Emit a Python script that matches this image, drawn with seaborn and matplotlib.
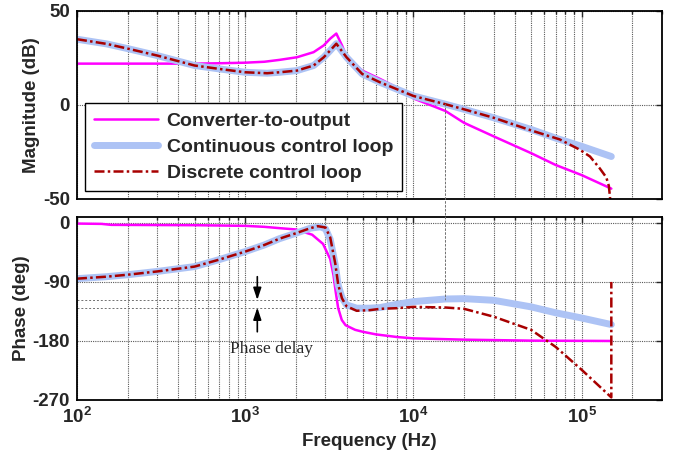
import math
import matplotlib
matplotlib.use("Agg")
import matplotlib.pyplot as plt
import seaborn as sns
from matplotlib.patches import ConnectionPatch
from matplotlib.ticker import LogLocator, FuncFormatter, NullFormatter, FixedLocator

# --- DATA ---
# Converter-to-output magnitude
conv_mag_f = [100, 200, 300, 500, 700, 1000, 1300, 1600, 2030, 2550, 2930, 3200, 3480,
              3760, 4000, 4960, 6350, 7970, 10000, 15500, 20000, 30000, 50000, 70000,
              100000, 150000]
conv_mag_db = [22, 22, 22, 22, 22.2, 22.5, 23, 24, 25.4, 28.1, 31.7, 35.3, 38,
               31.7, 25.8, 18.3, 13.8, 9.3, 3.5, -3.2, -9.5, -16.7, -25.6, -31.9,
               -37.3, -44.5]

# Continuous control loop magnitude
cont_mag_f = [100, 150, 200, 300, 500, 700, 1000, 1350, 1600, 2030, 2550, 2930, 3200,
              3480, 4000, 4960, 6350, 7970, 10000, 15500, 20000, 30000, 50000, 70000,
              100000, 150000]
cont_mag_db = [35, 32.5, 30, 26.3, 21, 19.2, 17.4, 16.9, 17.4, 18.3, 21, 25.4, 29,
               32.6, 25.4, 16.5, 12, 8.4, 4.8, 0.4, -2.3, -6.8, -13, -17.6,
               -22, -27.4]

# Discrete control loop magnitude
disc_mag_f = [100, 150, 200, 300, 500, 700, 1000, 1350, 1600, 2030, 2550, 2930, 3200,
              3480, 4000, 4960, 6350, 7970, 10000, 15500, 20000, 30000, 50000, 74000,
              97000, 112000, 128000, 140000, 145000, 150000]
disc_mag_db = [35, 32.5, 30, 26.3, 21, 19.2, 17.4, 16.9, 17.4, 18.3, 21, 25.4, 29,
               32.6, 25.4, 16.5, 12, 8.4, 4.8, 0.4, -2.3, -6.8, -13.5, -18.3,
               -23.7, -27.4, -33.7, -38.5, -43, -56]

# Converter-to-output phase
conv_ph_f = [100, 140, 160, 500, 1000, 1300, 1600, 2000, 2500, 2900, 3200, 3350, 3450,
             3570, 3750, 3950, 4500, 5000, 6000, 8000, 10000, 20000, 50000, 150000]
conv_ph_deg = [-1, -1.5, -3, -3.5, -4.5, -6, -8, -10, -18, -32, -55, -80, -105,
               -130, -148, -156, -163, -166, -170, -174, -176, -178, -179.5, -180]

# Continuous control loop phase
cont_ph_f = [100, 150, 200, 300, 500, 700, 1000, 1300, 1600, 2000, 2440, 2800, 3000,
             3200, 3430, 3570, 3760, 4000, 4600, 5500, 6350, 8000, 10000, 15500, 20000,
             30000, 50000, 70000, 100000, 150000]
cont_ph_deg = [-85, -82, -79, -74, -66.6, -56, -43.7, -33.6, -24, -15.8, -8, -6, -9,
               -25, -64, -95, -114, -125, -130, -130, -129, -124, -120, -116, -115.5,
               -118, -128, -137, -145, -155]

# Discrete control loop phase (wraps at the end)
disc_ph_f = [100, 150, 200, 300, 500, 700, 1000, 1300, 1600, 2000, 2440, 2700, 3000,
             3200, 3430, 3570, 3760, 4000, 4600, 5500, 6350, 8000, 10000, 15500, 20000,
             30000, 50000, 70000, 100000, 150000, 150000]
disc_ph_deg = [-85, -82, -79, -74, -66.6, -56, -43.7, -33.6, -24, -15.8, -8, -5, -7,
               -22, -62, -94, -115, -127, -134, -133, -131, -130, -128, -129, -131,
               -143, -163, -189, -224, -266, -90]

labels = ["Converter-to-output", "Continuous control loop", "Discrete control loop"]

# crossover / phase-margin markers
crossover_hz = 15500
pm_cont = -117.5
pm_disc = -129
arrow_hz = 1180
delay_text_hz = 1430

# --- STYLE ---
sns.set_theme(style="white")
plt.rcParams["font.family"] = ["Liberation Sans", "DejaVu Sans"]
plt.rcParams["font.weight"] = "bold"
plt.rcParams["axes.unicode_minus"] = False
plt.rcParams["mathtext.fontset"] = "custom"
plt.rcParams["mathtext.rm"] = "Liberation Sans:bold"
plt.rcParams["mathtext.bf"] = "Liberation Sans:bold"

MAGENTA = "#FF00FF"
BLUE = "#ADC3F5"
RED = "#A80000"
DASHDOT = (0, (4, 1.3, 1, 1.3))

fig = plt.figure(figsize=(6.83, 4.62), dpi=100)
ax1 = fig.add_axes([0.1127, 0.5693, 0.8565, 0.4069])
ax2 = fig.add_axes([0.1127, 0.1342, 0.8565, 0.3961])

def draw(ax, f, v, color, lw, ls, label):
    sns.lineplot(x=f, y=v, ax=ax, color=color, linewidth=lw, linestyle=ls,
                 estimator=None, sort=False, label=label)

draw(ax1, conv_mag_f, conv_mag_db, MAGENTA, 1.8, "-", labels[0])
draw(ax1, cont_mag_f, cont_mag_db, BLUE, 5, "-", labels[1])
draw(ax1, disc_mag_f, disc_mag_db, RED, 1.8, DASHDOT, labels[2])

draw(ax2, conv_ph_f, conv_ph_deg, MAGENTA, 1.8, "-", None)
draw(ax2, cont_ph_f, cont_ph_deg, BLUE, 5, "-", None)
draw(ax2, disc_ph_f, disc_ph_deg, RED, 1.8, DASHDOT, None)

grid_kw = dict(color="#5a5a5a", linestyle=(0, (1, 1)), linewidth=0.8)
for ax in (ax1, ax2):
    ax.set_xscale("log")
    ax.set_xlim(100, 3e5)
    ax.xaxis.set_major_locator(LogLocator(base=10, numticks=10))
    ax.xaxis.set_minor_locator(LogLocator(base=10, subs=range(2, 10), numticks=20))
    ax.xaxis.set_minor_formatter(NullFormatter())
    ax.grid(True, which="major", **grid_kw)
    ax.grid(True, which="minor", axis="x", **grid_kw)
    ax.set_axisbelow(True)
    ax.tick_params(which="both", direction="in", top=True, right=True, length=4,
                   width=1, labelsize=13.5, pad=5)
    ax.tick_params(which="minor", length=2.5)
    for s in ax.spines.values():
        s.set_linewidth(1.3)
        s.set_color("black")

ax1.set_ylim(-50, 50)
ax1.yaxis.set_major_locator(FixedLocator([-50, 0, 50]))
ax1.xaxis.set_major_formatter(NullFormatter())
ax1.set_ylabel("Magnitude (dB)", fontsize=13.5, fontweight="bold", labelpad=2)

ax2.set_ylim(-270, 9)
ax2.yaxis.set_major_locator(FixedLocator([-270, -180, -90, 0]))
ax2.xaxis.set_major_formatter(FuncFormatter(lambda v, p: r"$\mathbf{10^{%d}}$" % round(math.log10(v))))
ax2.set_ylabel("Phase (deg)", fontsize=13.5, fontweight="bold", labelpad=2)
ax2.set_xlabel("Frequency (Hz)", fontsize=13.5, fontweight="bold", labelpad=4)
for ax in (ax1, ax2):
    for lab in ax.get_yticklabels() + ax.get_xticklabels():
        lab.set_fontweight("bold")

leg = ax1.legend(loc="lower left", bbox_to_anchor=(0.0137, 0.0426), borderaxespad=0,
                 fancybox=False, framealpha=1, edgecolor="black",
                 handlelength=3.3, handletextpad=0.45, labelspacing=0.45,
                 borderpad=0.45, prop={"weight": "bold", "size": 14})
leg.get_frame().set_linewidth(1.0)

# phase-margin guide lines
ax2.plot([100, crossover_hz], [pm_cont, pm_cont], color="#707070", lw=0.7, ls=(0, (2, 2)), zorder=1)
ax2.plot([100, crossover_hz], [pm_disc, pm_disc], color="#707070", lw=0.7, ls=(0, (2, 2)), zorder=1)
con = ConnectionPatch(xyA=(crossover_hz, 0.4), coordsA=ax1.transData,
                      xyB=(crossover_hz, pm_cont), coordsB=ax2.transData,
                      color="#707070", lw=0.7, ls=(0, (2, 2)))
fig.add_artist(con)

arrow_kw = dict(arrowstyle="-|>,head_length=0.6,head_width=0.2", color="black", lw=1.2,
                shrinkA=0, shrinkB=0)
ax2.annotate("", xy=(arrow_hz, pm_cont), xytext=(arrow_hz, -82), arrowprops=arrow_kw)
ax2.annotate("", xy=(arrow_hz, pm_disc), xytext=(arrow_hz, -166), arrowprops=arrow_kw)
ax2.text(delay_text_hz, -192, "Phase delay", family=["Liberation Serif", "DejaVu Serif"],
         fontsize=12.5, fontweight="normal", ha="center", va="center")

fig.savefig("out.png", dpi=100)
